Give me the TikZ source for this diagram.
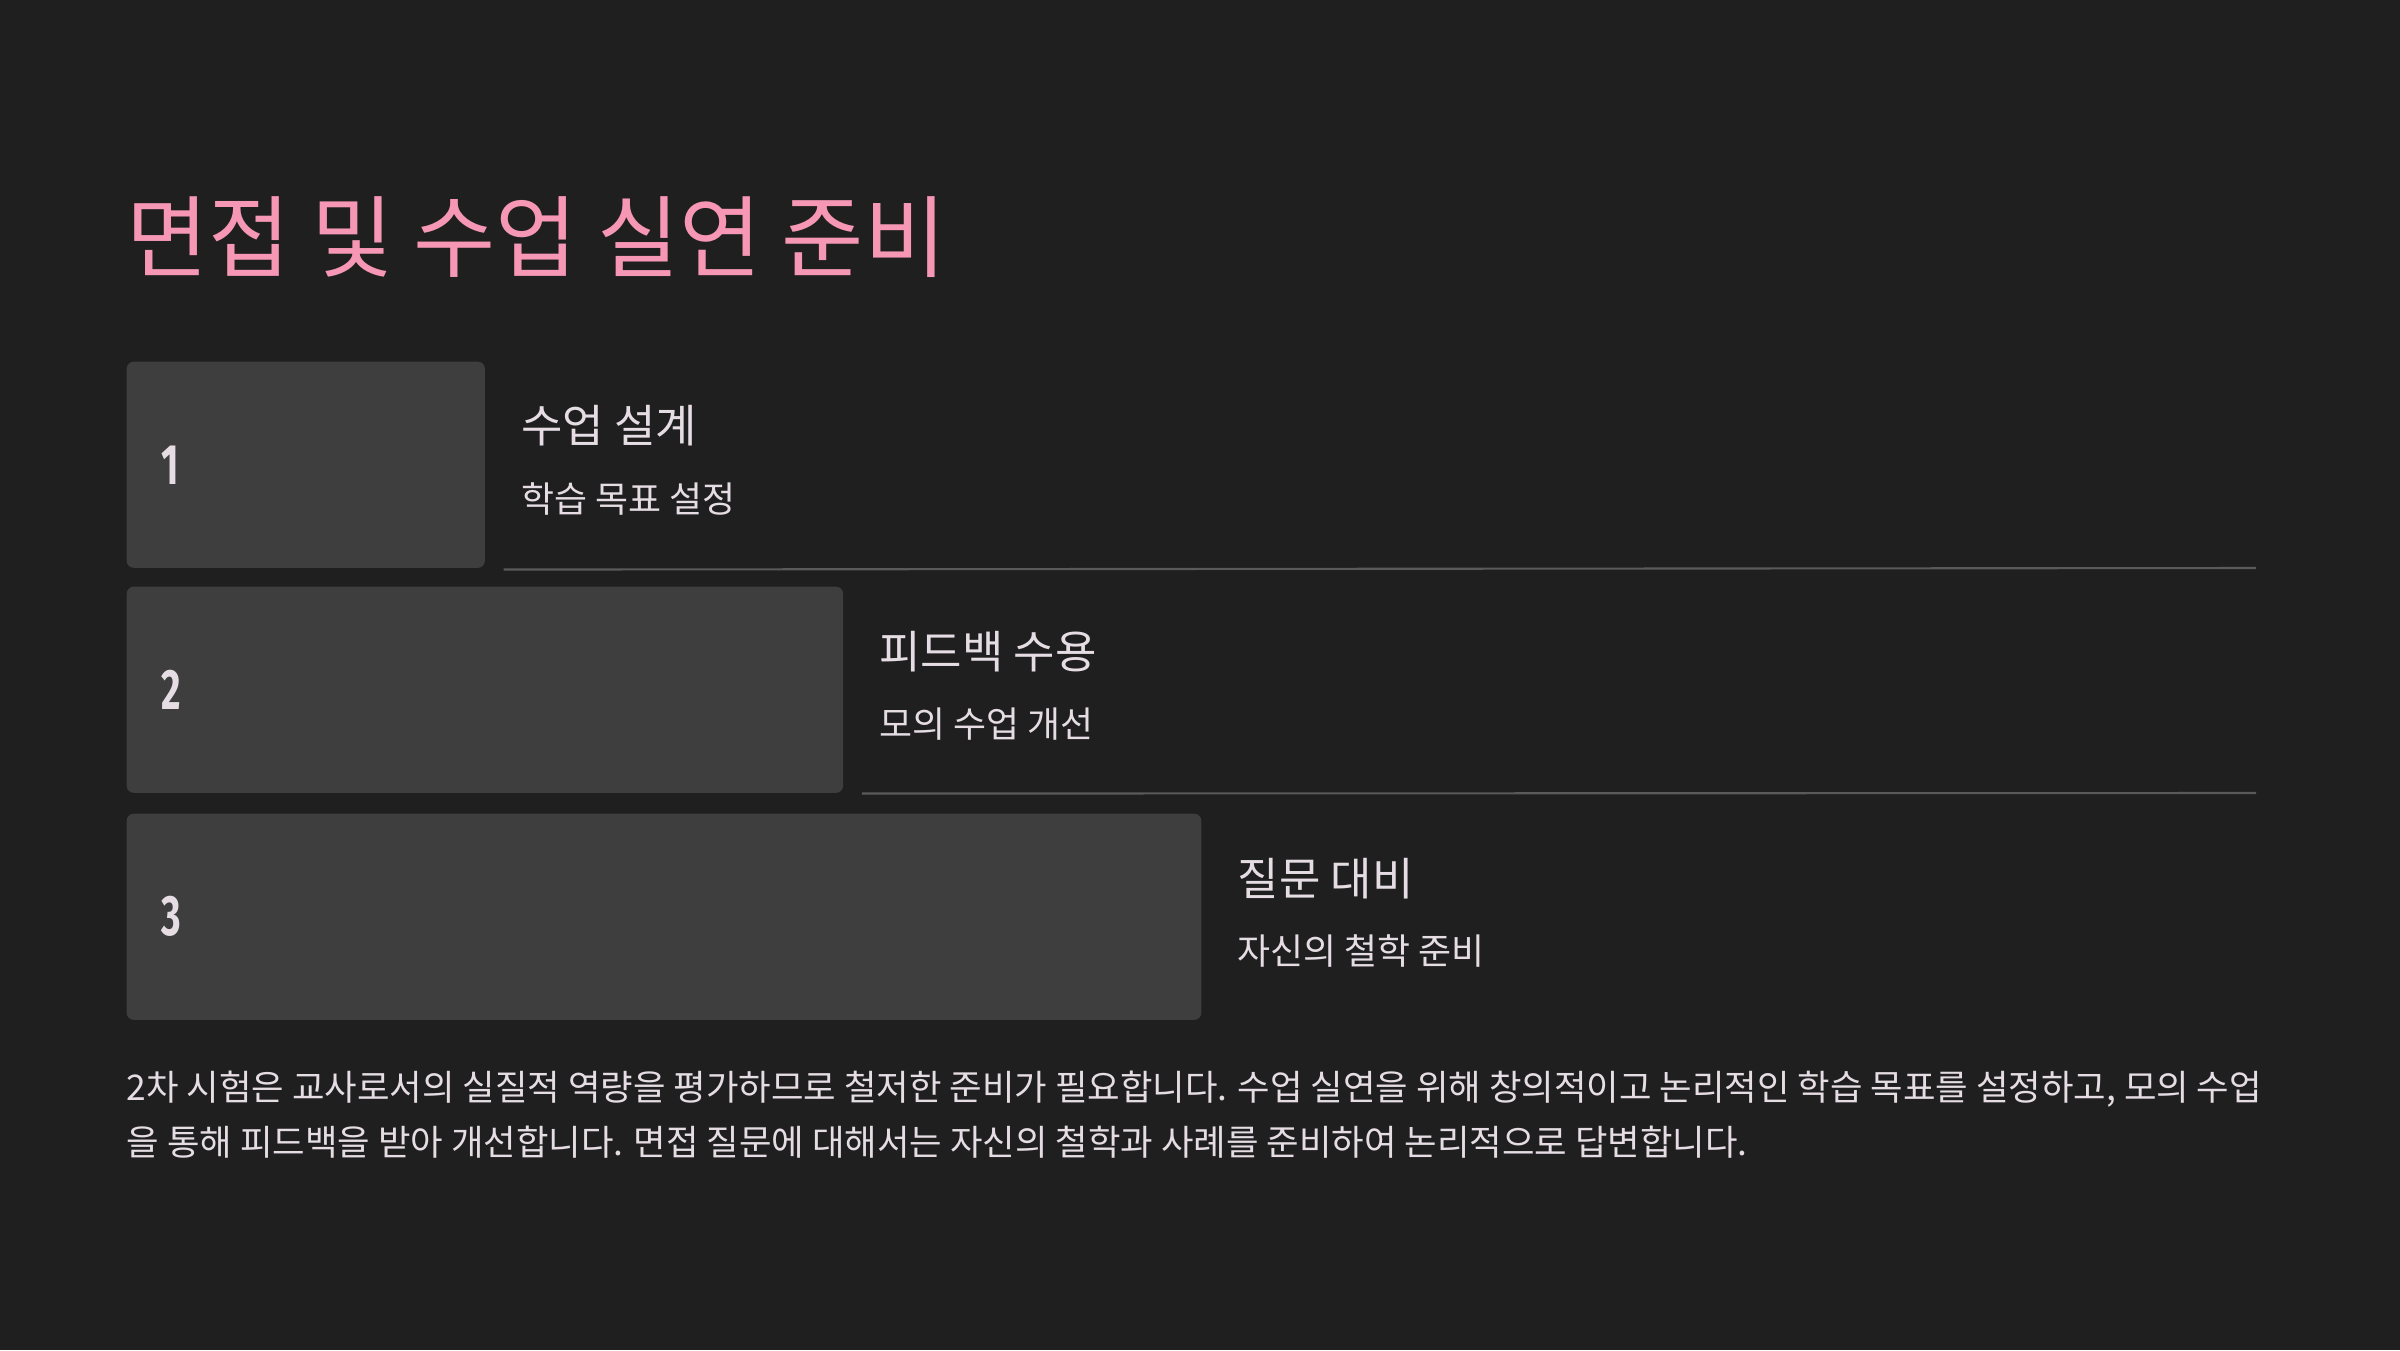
\documentclass[tikz,border=0pt]{standalone}
\usepackage{fontspec}
\setmainfont{Noto Sans CJK KR}
\newfontfamily\numfont[FakeStretch=0.66]{Fira Sans}
\usetikzlibrary{positioning}

\definecolor{bgcol}{HTML}{1F1F1F}
\definecolor{boxcol}{HTML}{3E3E3E}
\definecolor{titlecol}{HTML}{F697B5}
\definecolor{txtcol}{HTML}{E5DDE3}
\definecolor{rulecol}{HTML}{5A5A5A}

\tikzset{
  stepbox/.style={fill=boxcol, rounded corners=2pt, inner sep=0pt,
    minimum height=2.06cm, anchor=north west},
  numlbl/.style={text=txtcol, inner sep=0pt, anchor=west,
    font=\numfont\bfseries\fontsize{16.2pt}{18pt}\selectfont},
  headlbl/.style={text=txtcol, inner sep=0pt, anchor=base west,
    font=\fontsize{12.8pt}{15pt}\selectfont},
  sublbl/.style={text=txtcol, inner sep=0pt, anchor=base west,
    font=\fontsize{10.2pt}{12pt}\selectfont},
  sepline/.style={draw=rulecol, line width=0.6pt},
}

\begin{document}
\begin{tikzpicture}[x=0.01cm, y=-0.01cm]
    \fill[bgcol] (0,0) rectangle (2400,1350);
    \useasboundingbox (0,0) rectangle (2400,1350);

    \node[text=titlecol, inner sep=0pt, anchor=base west,
      font=\fontsize{25.4pt}{30pt}\selectfont] (title) at (126,270) {면접 및 수업 실연 준비};

    % steps
    \node[stepbox, minimum width=3.58cm]  (box1) at (126,361) {};
    \node[stepbox, minimum width=7.16cm]  (box2) at (126,586) {};
    \node[stepbox, minimum width=10.74cm] (box3) at (126,813) {};

    \node[numlbl] (n1) at ([xshift=0.35cm]box1.west) {1};
    \node[numlbl] (n2) at ([xshift=0.35cm]box2.west) {2};
    \node[numlbl] (n3) at ([xshift=0.35cm]box3.west) {3};

    \node[headlbl] (h1) at ([xshift=0.35cm, yshift=-0.81cm]box1.north east) {수업 설계};
    \node[sublbl]  (s1) at ([xshift=0.35cm, yshift=-1.51cm]box1.north east) {학습 목표 설정};
    \node[headlbl] (h2) at ([xshift=0.35cm, yshift=-0.82cm]box2.north east) {피드백 수용};
    \node[sublbl]  (s2) at ([xshift=0.35cm, yshift=-1.51cm]box2.north east) {모의 수업 개선};
    \node[headlbl] (h3) at ([xshift=0.35cm, yshift=-0.82cm]box3.north east) {질문 대비};
    \node[sublbl]  (s3) at ([xshift=0.35cm, yshift=-1.51cm]box3.north east) {자신의 철학 준비};

    \coordinate (e1) at (2256,568);
    \coordinate (e2) at (2256,793);
    \draw[sepline] ([xshift=0.18cm, yshift=-0.01cm]box1.south east) -- (e1);
    \draw[sepline] ([xshift=0.18cm]box2.south east) -- (e2);

    \node[text=txtcol, inner sep=0pt, anchor=north west, align=left,
      font=\fontsize{10.05pt}{15.65pt}\selectfont] (body) at (126,1070)
      {2차 시험은 교사로서의 실질적 역량을 평가하므로 철저한 준비가 필요합니다. 수업 실연을 위해 창의적이고 논리적인 학습 목표를 설정하고, 모의 수업\\
       을 통해 피드백을 받아 개선합니다. 면접 질문에 대해서는 자신의 철학과 사례를 준비하여 논리적으로 답변합니다.};
\end{tikzpicture}
\end{document}
